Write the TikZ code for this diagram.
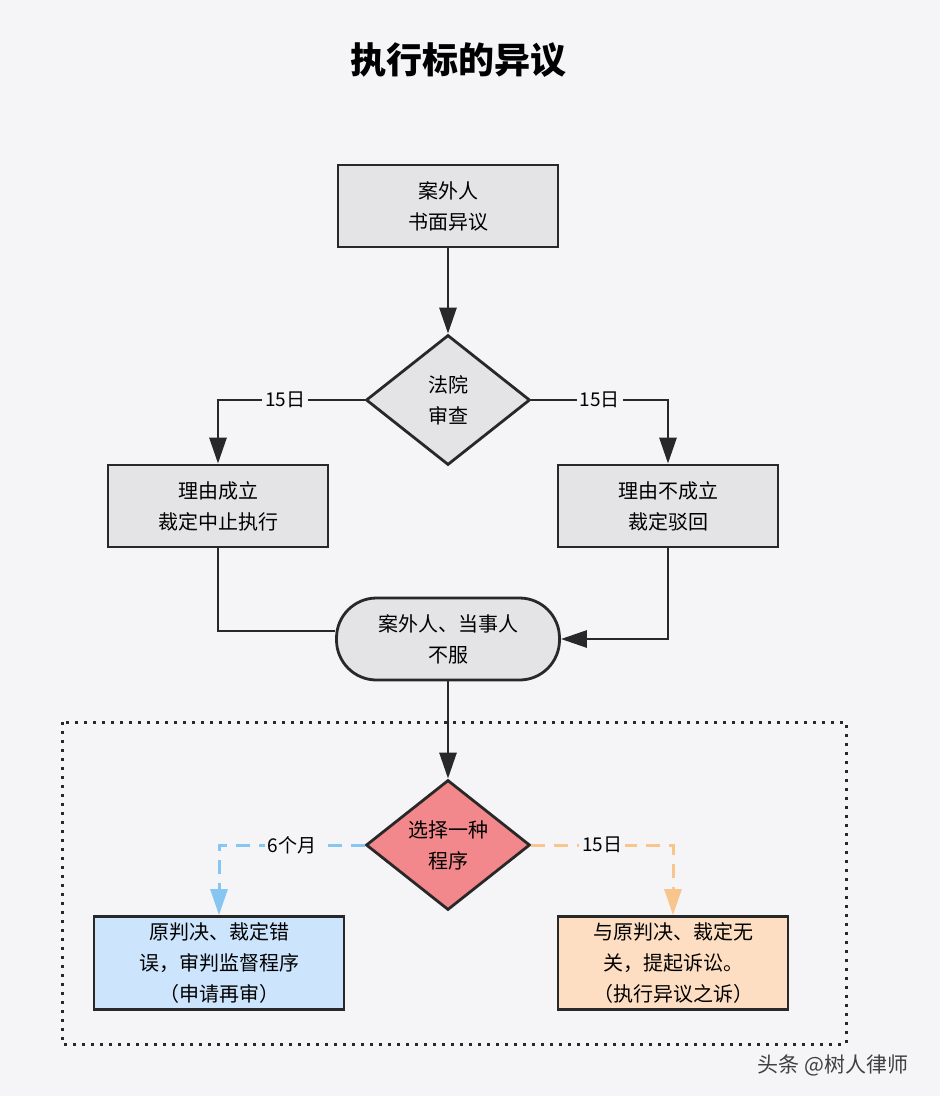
\documentclass[tikz,border=0pt]{standalone}
\usepackage{fontspec}
\usepackage{xcolor}
\usepackage{tikz}
\usetikzlibrary{shapes.geometric, arrows.meta, positioning}
\newfontfamily\cjk{Noto Sans CJK SC}
\definecolor{bgcolor}{RGB}{245, 245, 248}
\definecolor{boxgray}{RGB}{228, 228, 230}
\definecolor{linecolor}{RGB}{40, 40, 40}
\definecolor{choicered}{RGB}{242, 136, 140}
\definecolor{retrialblue}{RGB}{204, 228, 252}
\definecolor{suitorange}{RGB}{253, 222, 194}
\definecolor{blueline}{RGB}{135, 198, 240}
\definecolor{orangeline}{RGB}{248, 198, 140}

\begin{document}
\begin{tikzpicture}[
    x=1pt, y=-1pt,
    proc/.style={draw=linecolor, line width=2.8pt, fill=boxgray, minimum width=220pt, minimum height=82pt, font=\cjk\fontsize{20}{31}\selectfont, align=center},
    decision/.style={diamond, draw=linecolor, line width=2.8pt, fill=boxgray, minimum width=164pt, minimum height=130pt, aspect=1.26, inner sep=0pt, font=\cjk\fontsize{20}{31}\selectfont, align=center},
    terminal/.style={proc, rounded corners=40pt, minimum width=223pt},
    arrow/.style={-{Triangle[width=17pt, length=26pt]}, line width=2.8pt, linecolor},
    line/.style={line width=2.8pt, linecolor},
    option/.style={-{Triangle[width=17pt, length=26pt]}, line width=3pt, dash pattern=on 14pt off 9pt},
    days/.style={fill=bgcolor, font=\cjk\fontsize{19}{22}\selectfont, inner sep=3pt, text=black}
]
    \useasboundingbox[fill=bgcolor] (0,0) rectangle (940,1096);

    % Nodes
    \node[font=\cjk\bfseries\fontsize{36}{40}\selectfont] (title) at (458,60) {执行标的异议};
    \node[proc] (objection) at (448,206) {案外人\\书面异议};
    \node[decision] (review) at (448,400) {法院\\审查};
    \node[proc] (upheld) at (218,506) {理由成立\\裁定中止执行};
    \node[proc] (rejected) at (668,506) {理由不成立\\裁定驳回};
    \node[terminal] (dissent) at (448,639) {案外人、当事人\\不服};
    \node[decision, fill=choicered] (choice) at (448,845) {选择一种\\程序};
    \node[proc, fill=retrialblue, minimum width=250pt, minimum height=93pt] (retrial) at (219,963) {原判决、裁定错\\误，审判监督程序\\（申请再审）};
    \node[proc, fill=suitorange, minimum width=230pt, minimum height=93pt] (suit) at (673,963) {与原判决、裁定无\\关，提起诉讼。\\（执行异议之诉）};
    \node[font=\cjk\fontsize{21}{24}\selectfont, text=darkgray] (mark) at (833,1065) {头条 @树人律师};

    % Frame
    \draw[line width=3pt, linecolor, dash pattern=on 3pt off 6pt] (62,722) rectangle (846,1044);

    % Arrows
    \draw[arrow] (objection) -- (review);
    \draw[arrow] (review.west) -| node[days, pos=0.27] {15日} (upheld);
    \draw[arrow] (review.east) -| node[days, pos=0.25] {15日} (rejected);
    \draw[line] (upheld) |- ([yshift=8pt]dissent.west);
    \draw[arrow] (rejected) |- (dissent);
    \draw[arrow] (dissent) -- (choice);
    \draw[option, blueline] (choice.west) -| node[days, pos=0.25] {6个月} (retrial);
    \draw[option, orangeline] (choice.east) -| node[days, pos=0.25] {15日} (suit);
\end{tikzpicture}
\end{document}
